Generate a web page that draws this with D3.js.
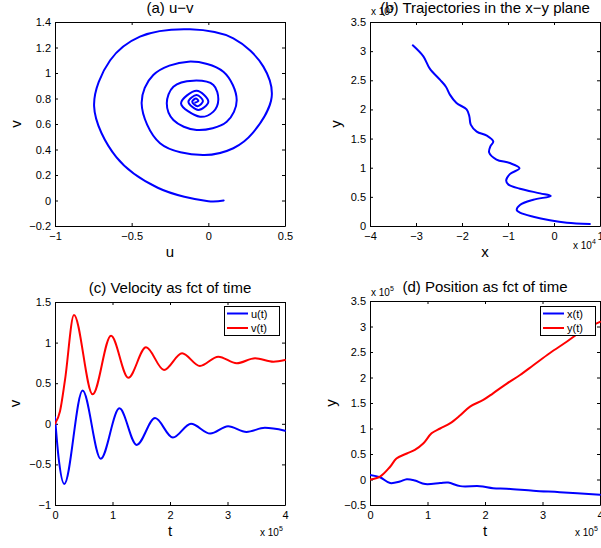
<!doctype html>
<html>
<head>
<meta charset="utf-8" />
<title>u-v trajectories</title>
<script src="https://cdn.jsdelivr.net/npm/d3@7"></script>
<style>
  body { margin: 0; background: #fff; }
  svg text { font-family: "Liberation Sans", Arial, Helvetica, sans-serif; fill: #000; }
</style>
</head>
<body>
<svg id="fig" width="601" height="548"></svg>
<script>
// (a) u-v phase spiral in time order
var spiralU = [0.1, 0.0, -0.33, -0.6, -0.745, -0.64, -0.446, -0.12, 0.163, 0.359, 0.413, 0.29, 0.163, -0.035,
               -0.315, -0.435, -0.359, -0.13, 0.098, 0.185, 0.12, -0.076, -0.228, -0.271, -0.228, -0.098, 0.033,
               0.065, 0.033, -0.054, -0.178, -0.076, 0.0, -0.065, -0.13, -0.076, -0.035, -0.07, -0.105, -0.08, -0.065, -0.085];
var spiralV = [0.0, -0.005, 0.10, 0.34, 0.74, 1.10, 1.285, 1.343, 1.272, 1.05, 0.81, 0.53, 0.41, 0.357,
               0.449, 0.762, 0.984, 1.089, 1.01, 0.788, 0.618, 0.553, 0.631, 0.762, 0.893, 0.94, 0.906,
               0.788, 0.697, 0.657, 0.762, 0.861, 0.775, 0.71, 0.775, 0.827, 0.78, 0.74, 0.775, 0.80, 0.78, 0.768];

// (b) trajectory, x in 1e4, y in 1e5
var trajX = [0.78, 0.28, -0.09, -0.45, -0.74, -0.81, -0.74, -0.45, -0.07, -0.30, -0.74, -0.99, -1.04, -0.96, -0.75,
             -0.96, -1.25, -1.41, -1.38, -1.32, -1.46, -1.68, -1.81, -1.84, -1.90, -2.12, -2.26, -2.35, -2.48, -2.70, -2.84, -3.07];
var trajY = [0.034, 0.057, 0.10, 0.16, 0.23, 0.275, 0.36, 0.45, 0.516, 0.56, 0.64, 0.71, 0.78, 0.89, 0.99,
             1.08, 1.14, 1.26, 1.37, 1.45, 1.55, 1.62, 1.74, 1.88, 2.0, 2.11, 2.25, 2.39, 2.51, 2.70, 2.91, 3.10];

// (c) velocities, t in 1e5
var uT   = [0, 0.06, 0.162, 0.48, 0.795, 1.12, 1.42, 1.74, 2.05, 2.365, 2.70, 3.01, 3.33, 3.65, 4.0];
var uVal = [0.08, -0.40, -0.74, 0.41, -0.43, 0.19, -0.26, 0.07, -0.17, 0.0, -0.12, -0.03, -0.10, -0.05, -0.085];
var vT   = [0, 0.087, 0.174, 0.33, 0.655, 0.974, 1.275, 1.583, 1.896, 2.21, 2.52, 2.84, 3.16, 3.48, 3.8, 4.0];
var vVal = [0, 0.155, 0.54, 1.34, 0.363, 1.085, 0.568, 0.942, 0.663, 0.868, 0.712, 0.827, 0.745, 0.807, 0.765, 0.786];

// (d) positions, t in 1e5, values in 1e5
var yT   = [0, 0.174, 0.35, 0.46, 0.64, 0.78, 0.93, 1.07, 1.22, 1.39, 1.57, 1.74, 1.97, 2.14, 2.38, 2.61, 2.84, 3.13, 3.42, 3.71, 4.0];
var yVal = [0.0, 0.056, 0.25, 0.41, 0.51, 0.58, 0.71, 0.905, 1.0, 1.1, 1.26, 1.43, 1.56, 1.69, 1.88, 2.05, 2.24, 2.48, 2.70, 2.93, 3.09];
var xT   = [0, 0.174, 0.35, 0.52, 0.64, 0.78, 0.96, 1.22, 1.36, 1.57, 1.91, 2.14, 2.38, 2.84, 3.30, 4.0];
var xVal = [0.09, 0.044, -0.07, -0.04, 0.005, -0.02, -0.09, -0.07, -0.06, -0.13, -0.13, -0.17, -0.18, -0.22, -0.25, -0.30];

// tick values
var ticksAX = [-1, -0.5, 0, 0.5];
var ticksAY = [-0.2, 0, 0.2, 0.4, 0.6, 0.8, 1, 1.2, 1.4];
var ticksBX = [-4, -3, -2, -1, 0, 1];
var ticksBY = [0, 0.5, 1, 1.5, 2, 2.5, 3, 3.5];
var ticksT  = [0, 1, 2, 3, 4];
var ticksCY = [-1, -0.5, 0, 0.5, 1, 1.5];
var ticksDY = [-0.5, 0, 0.5, 1, 1.5, 2, 2.5, 3, 3.5];

var svg = d3.select('#fig');
var BLUE = '#0000ff', RED = '#ff0000';

function fmt(d) { return String(d).replace('-', '\u2212'); }
function zip(a, b) { return a.map(function(v, i) { return [v, b[i]]; }); }

function panel(p) {
  var x = d3.scaleLinear().domain(p.xDomain).range([p.left, p.right]);
  var y = d3.scaleLinear().domain(p.yDomain).range([p.bottom, p.top]);
  var g = svg.append('g');
  var id = 'clip' + p.name;

  g.append('clipPath').attr('id', id).append('rect')
    .attr('x', p.left).attr('y', p.top).attr('width', p.right - p.left + 1).attr('height', p.bottom - p.top + 1);

  function styleAxis(sel) {
    sel.select('.domain').attr('stroke', '#000').attr('stroke-width', 1);
    sel.selectAll('.tick line').attr('stroke', '#000');
    sel.selectAll('text').attr('font-size', 11).attr('font-family', null);
    sel.attr('font-family', null);
  }

  g.append('g').attr('transform', 'translate(0,' + p.bottom + ')')
    .call(d3.axisBottom(x).tickValues(p.xTicks).tickSizeInner(-3).tickSizeOuter(0).tickPadding(6).tickFormat(fmt))
    .call(styleAxis);
  g.append('g').attr('transform', 'translate(0,' + p.top + ')')
    .call(d3.axisTop(x).tickValues(p.xTicks).tickSizeInner(-3).tickSizeOuter(0).tickFormat(function() { return ''; }))
    .call(styleAxis);
  g.append('g').attr('transform', 'translate(' + p.left + ',0)')
    .call(d3.axisLeft(y).tickValues(p.yTicks).tickSizeInner(-3).tickSizeOuter(0).tickPadding(4).tickFormat(fmt))
    .call(styleAxis);
  g.append('g').attr('transform', 'translate(' + p.right + ',0)')
    .call(d3.axisRight(y).tickValues(p.yTicks).tickSizeInner(-3).tickSizeOuter(0).tickFormat(function() { return ''; }))
    .call(styleAxis);

  // title and axis labels
  g.append('text').attr('x', (p.left + p.right) / 2).attr('y', p.top - 9)
    .attr('text-anchor', 'middle').attr('font-size', 15).text(p.title);
  g.append('text').attr('x', (p.left + p.right) / 2).attr('y', p.bottom + 31)
    .attr('text-anchor', 'middle').attr('font-size', 15).text(p.xLabel);
  g.append('text').attr('transform', 'translate(' + p.yLabelX + ',' + (p.top + p.bottom) / 2 + ') rotate(-90)')
    .attr('text-anchor', 'middle').attr('font-size', 15).text(p.yLabel);

  var lines = g.append('g').attr('clip-path', 'url(#' + id + ')');

  if (p.legend) {
    var lg = g.append('g').attr('transform', 'translate(' + p.legend.x + ',' + p.legend.y + ')');
    lg.append('rect').attr('x', 0.5).attr('y', 0.5).attr('width', 55).attr('height', 29)
      .attr('fill', '#fff').attr('stroke', '#000').attr('stroke-width', 1);
    p.series.forEach(function(s, i) {
      var cy = 7.5 + i * 14.5;
      lg.append('line').attr('x1', 3).attr('x2', 24).attr('y1', cy).attr('y2', cy)
        .attr('stroke', s.color).attr('stroke-width', 2);
      lg.append('text').attr('x', 27).attr('y', cy + 4).attr('font-size', 11).text(s.name);
    });
  }

  p.series.forEach(function(s) {
    lines.append('path').datum(s.points)
      .attr('fill', 'none').attr('stroke', s.color).attr('stroke-width', 2)
      .attr('stroke-linejoin', 'round').attr('stroke-linecap', 'round')
      .attr('d', d3.line().x(function(d) { return x(d[0]); }).y(function(d) { return y(d[1]); }).curve(s.curve));
  });
  return g;
}

function multiplier(x, y, exp) {
  var t = svg.append('text').attr('x', x).attr('y', y).attr('font-size', 10);
  t.append('tspan').text('x 10');
  t.append('tspan').attr('dy', -5).attr('font-size', 7).text(exp);
}

panel({
  name: 'a', left: 55, right: 285, top: 22, bottom: 226,
  xDomain: [-1, 0.5], yDomain: [-0.2, 1.4], xTicks: ticksAX, yTicks: ticksAY,
  title: '(a) u\u2212v', xLabel: 'u', yLabel: 'v', yLabelX: 21,
  series: [{ name: 'uv', color: BLUE, points: zip(spiralU, spiralV), curve: d3.curveCatmullRom.alpha(0.5) }]
});

panel({
  name: 'b', left: 370, right: 600, top: 22, bottom: 226,
  xDomain: [-4, 1], yDomain: [0, 3.5], xTicks: ticksBX, yTicks: ticksBY,
  title: '(b) Trajectories in the x\u2212y plane', xLabel: 'x', yLabel: 'y', yLabelX: 341,
  series: [{ name: 'xy', color: BLUE, points: zip(trajX, trajY), curve: d3.curveCatmullRom.alpha(0.5) }]
});
multiplier(371, 15, '5');
multiplier(573, 249, '4');

panel({
  name: 'c', left: 55, right: 285, top: 302, bottom: 505,
  xDomain: [0, 4], yDomain: [-1, 1.5], xTicks: ticksT, yTicks: ticksCY,
  title: '(c) Velocity as fct of time', xLabel: 't', yLabel: 'v', yLabelX: 20,
  legend: { x: 224, y: 306 },
  series: [
    { name: 'u(t)', color: BLUE, points: zip(uT, uVal), curve: d3.curveMonotoneX },
    { name: 'v(t)', color: RED, points: zip(vT, vVal), curve: d3.curveMonotoneX }
  ]
});
multiplier(260, 536, '5');

panel({
  name: 'd', left: 370, right: 600, top: 301, bottom: 505,
  xDomain: [0, 4], yDomain: [-0.5, 3.5], xTicks: ticksT, yTicks: ticksDY,
  title: '(d) Position as fct of time', xLabel: 't', yLabel: 'y', yLabelX: 336,
  legend: { x: 540, y: 306 },
  series: [
    { name: 'x(t)', color: BLUE, points: zip(xT, xVal), curve: d3.curveCatmullRom.alpha(0.5) },
    { name: 'y(t)', color: RED, points: zip(yT, yVal), curve: d3.curveCatmullRom.alpha(0.5) }
  ]
});
multiplier(371, 296, '5');
multiplier(575, 536, '5');
</script>
</body>
</html>
